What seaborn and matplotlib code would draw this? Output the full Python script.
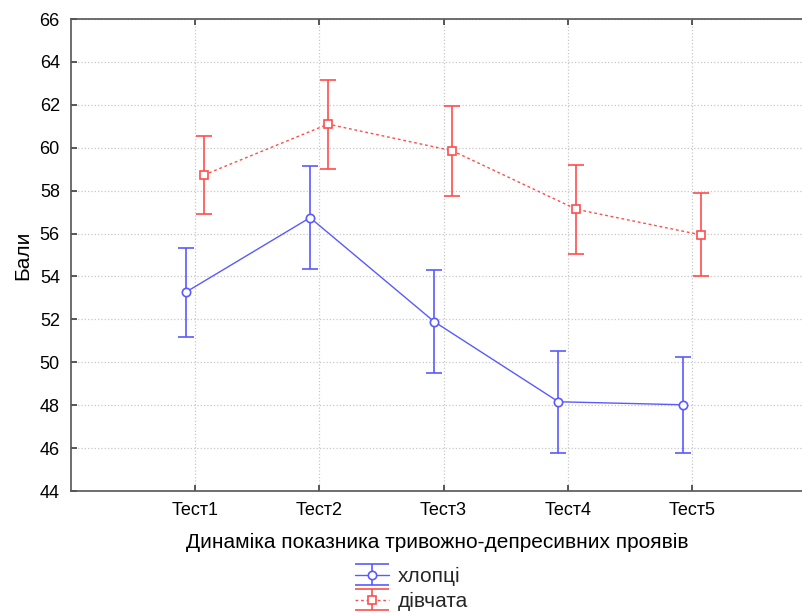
import matplotlib

matplotlib.use("Agg")
import matplotlib.pyplot as plt
import numpy as np
import pandas as pd
import seaborn as sns
from matplotlib.legend_handler import HandlerTuple
from matplotlib.lines import Line2D

tests = ["Тест1", "Тест2", "Тест3", "Тест4", "Тест5"]
groups = ["хлопці", "дівчата"]

boys_mean = [53.27, 56.74, 51.89, 48.16, 48.02]
boys_err = [2.07, 2.40, 2.40, 2.37, 2.23]
girls_mean = [58.73, 61.10, 59.86, 57.13, 55.94]
girls_err = [1.81, 2.08, 2.09, 2.08, 1.93]

colors = {"хлопці": "#5a5aff", "дівчата": "#ff4d4d"}
offsets = {"хлопці": -0.075, "дівчата": 0.07}

sns.set_theme(style="whitegrid")
plt.rcParams["font.family"] = ["Liberation Sans", "DejaVu Sans"]

pos = np.arange(1, len(tests) + 1)
df = pd.DataFrame({
    "pos": np.concatenate([pos + offsets["хлопці"], pos + offsets["дівчата"]]),
    "value": boys_mean + girls_mean,
    "group": [groups[0]] * len(tests) + [groups[1]] * len(tests),
})

fig = plt.figure(figsize=(8.03, 6.13), dpi=100)
ax = fig.add_axes([0.0884, 0.199, 0.9116, 0.770])

sns.lineplot(data=df, x="pos", y="value", hue="group", style="group",
             palette=colors, markers={"хлопці": "o", "дівчата": "s"},
             dashes={"хлопці": "", "дівчата": (2, 2)},
             linewidth=1, markersize=6, legend=False, zorder=3, ax=ax)
for line in ax.lines:
    line.set_markerfacecolor("white")
    line.set_markeredgecolor(line.get_color())
    line.set_markeredgewidth(1.2)

handles = []
for g, means, errs, line in zip(groups, [boys_mean, girls_mean],
                                [boys_err, girls_err], ax.lines):
    eb = ax.errorbar(pos + offsets[g], means, yerr=errs, fmt="none",
                     ecolor=colors[g], elinewidth=1.2, capsize=6,
                     capthick=1.2, zorder=2)
    handles.append((eb, line))

ax.set_xlim(0, 5.894)
ax.set_ylim(44, 66)
ax.set_xticks(pos)
ax.set_xticklabels(tests)
ax.set_yticks(np.arange(44, 67, 2))
ax.tick_params(axis="both", labelsize=13, labelcolor="black", direction="in",
               length=4, color="#444444", top=True, left=True, bottom=True)
ax.tick_params(axis="y", pad=8)
ax.tick_params(axis="x", pad=8)
ax.grid(True, linestyle=":", color="#c8c8c8", linewidth=0.9)
for side in ["left", "bottom", "top"]:
    ax.spines[side].set_color("#555555")
    ax.spines[side].set_linewidth(1.2)
ax.spines["right"].set_visible(False)

ax.set_xlabel("Динаміка показника тривожно-депресивних проявів",
              fontsize=15, labelpad=10, color="black")
ax.set_ylabel("Бали", fontsize=15, labelpad=5, color="black")

leg = fig.legend(handles, groups, handler_map={tuple: HandlerTuple(ndivide=1)},
                 loc="upper center", bbox_to_anchor=(0.513, 0.075), frameon=False,
                 fontsize=15, handlelength=1.6, handletextpad=0.45,
                 labelspacing=0.28, borderaxespad=0, borderpad=0)
# wide caps in the legend keys, like the original
for art in leg.findobj(Line2D):
    if art.get_marker() == "_":
        art.set_markersize(24)

fig.savefig("out.png", dpi=100)
plt.close(fig)
